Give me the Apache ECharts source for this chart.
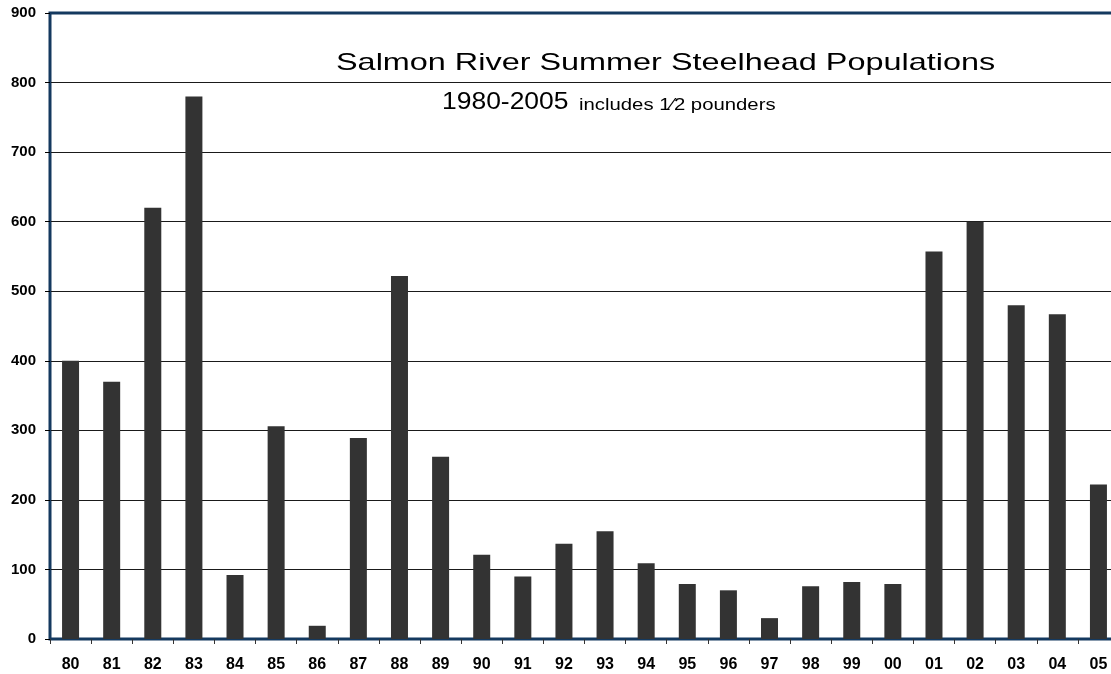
<!DOCTYPE html>
<html>
<head>
<meta charset="utf-8">
<title>Salmon River Summer Steelhead Populations</title>
<script src="https://cdn.jsdelivr.net/npm/echarts@6/dist/echarts.min.js"></script>
<style>
  html, body { margin: 0; padding: 0; background: #fff; }
  #main { width: 1111px; height: 674px; }
</style>
</head>
<body>
<div id="main"></div>
<script>
// 年份（两位数）
const years = ['80', '81', '82', '83', '84', '85', '86', '87', '88', '89', '90', '91', '92',
  '93', '94', '95', '96', '97', '98', '99', '00', '01', '02', '03', '04', '05']
// 每年的数量
const counts = [400, 370, 620, 780, 92, 306, 19, 289, 522, 262, 121, 90, 137,
  155, 109, 79, 70, 30, 76, 82, 79, 557, 600, 480, 467, 222]
// y轴刻度
const yMin = 0
const yMax = 900
const yStep = 100

const chart = echarts.init(document.getElementById('main'))

const option = {
  backgroundColor: '#fff',
  animation: false,
  grid: {
    left: 50,
    top: 13,
    width: 1069,
    height: 626,
    // 图的右边超出画布，不要被收回
    outerBoundsMode: 'none',
    show: true,
    borderColor: '#14395f',
    borderWidth: 3,
  },
  // 标题文字比普通字体宽，用 scaleX 拉宽
  graphic: [
    {
      type: 'text', x: 336, y: 63, scaleX: 1.35,
      style: { text: 'Salmon River Summer Steelhead Populations', font: '24px "Liberation Sans", Arial', fill: '#000', textAlign: 'left', textVerticalAlign: 'middle' }
    },
    {
      type: 'text', x: 442, y: 103, scaleX: 1.15,
      style: { text: '1980-2005', font: '23px "Liberation Sans", Arial', fill: '#000', textAlign: 'left', textVerticalAlign: 'middle' }
    },
    {
      type: 'text', x: 579, y: 106, scaleX: 1.27,
      style: { text: 'includes 1\u20442 pounders', font: '16px "Liberation Sans", Arial', fill: '#000', textAlign: 'left', textVerticalAlign: 'middle' }
    },
  ],
  xAxis: {
    type: 'category',
    data: years,
    axisLine: { lineStyle: { color: '#14395f', width: 2 } },
    axisTick: { show: true, length: 5, lineStyle: { color: '#333', width: 1 } },
    axisLabel: {
      margin: 18,
      color: '#000',
      fontFamily: '"Liberation Sans", Arial',
      fontWeight: 'bold',
      fontSize: 16,
    },
  },
  yAxis: {
    type: 'value',
    min: yMin,
    max: yMax,
    interval: yStep,
    axisLine: { show: true, lineStyle: { color: '#14395f', width: 2 } },
    axisTick: { show: true, length: 5, lineStyle: { color: '#000' } },
    axisLabel: {
      margin: 14,
      color: '#000',
      fontFamily: '"Liberation Sans", Arial',
      fontWeight: 'bold',
      fontSize: 15,
    },
    splitLine: {
      show: true,
      showMinLine: false,
      showMaxLine: false,
      lineStyle: { color: '#1a1a1a', width: 1.2 },
    },
  },
  series: [
    {
      type: 'bar',
      data: counts,
      barWidth: 17,
      itemStyle: { color: '#333333' },
    },
  ],
}
chart.setOption(option)
</script>
</body>
</html>
